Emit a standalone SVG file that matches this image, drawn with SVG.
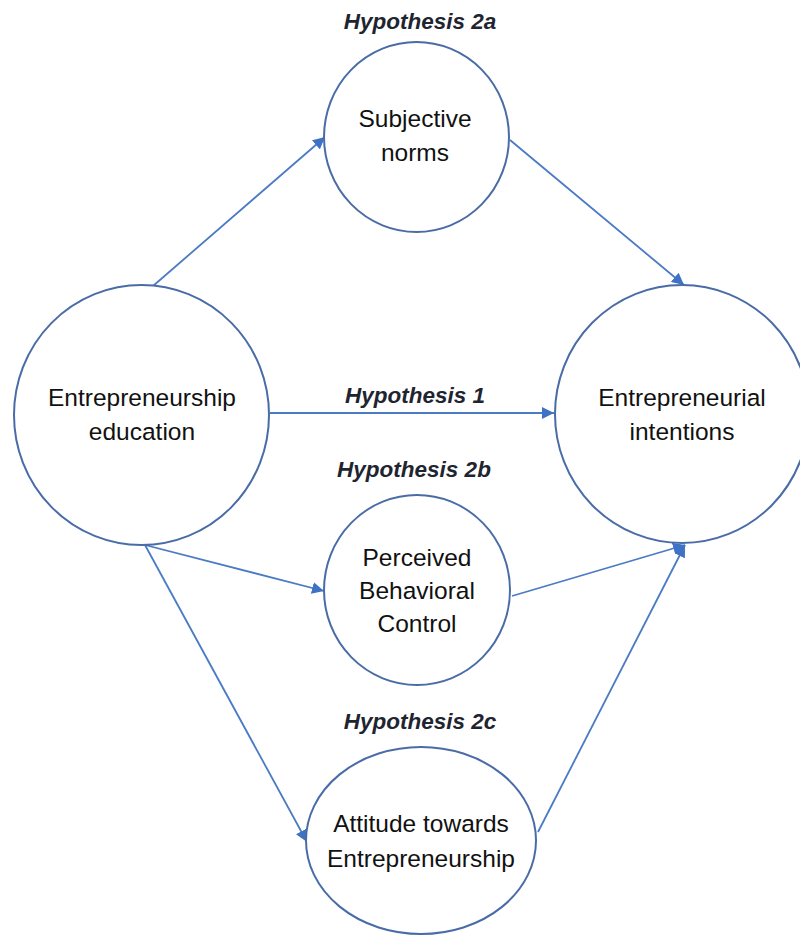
<svg xmlns="http://www.w3.org/2000/svg" width="800" height="936" viewBox="0 0 800 936">
  <style>
    .node { fill: #ffffff; stroke: #4a6ca6; stroke-width: 2; }
    .lbl { font-family: "Liberation Sans", Arial, sans-serif; font-size: 24.5px; fill: #111111; text-anchor: middle; }
    .hyp { font-family: "Liberation Sans", Arial, sans-serif; font-size: 22.5px; font-weight: bold; font-style: italic; fill: #1f2530; text-anchor: middle; }
    .edge { fill: none; stroke: #4a7bc4; stroke-width: 1.8; marker-end: url(#arrow); }
  </style>
  <defs>
    <marker id="arrow" markerUnits="userSpaceOnUse" markerWidth="14" markerHeight="12" refX="12" refY="6" orient="auto">
      <path d="M0,0 L12,6 L0,12 Z" fill="#3f72c4"/>
    </marker>
  </defs>
  <rect width="800" height="936" fill="#ffffff"/>

  <!-- connectors -->
  <g id="connectors">
    <line class="edge" x1="153" y1="286" x2="325" y2="137"/>
    <line class="edge" x1="510" y1="140" x2="684" y2="285"/>
    <line class="edge" x1="270" y1="413" x2="554" y2="413"/>
    <line class="edge" x1="145" y1="545" x2="324" y2="591"/>
    <line class="edge" x1="512" y1="596" x2="685" y2="545"/>
    <line class="edge" x1="145" y1="545" x2="307" y2="842"/>
    <line class="edge" x1="538" y1="832" x2="685" y2="545"/>
  </g>

  <!-- hypothesis labels -->
  <g id="hypotheses">
    <text class="hyp" x="420" y="29">Hypothesis 2a</text>
    <text class="hyp" x="415" y="403">Hypothesis 1</text>
    <text class="hyp" x="414" y="477">Hypothesis 2b</text>
    <text class="hyp" x="420" y="729">Hypothesis 2c</text>
  </g>

  <g id="education">
    <ellipse class="node" cx="141.5" cy="415" rx="127.5" ry="130"/>
    <text class="lbl" x="142" y="406">Entrepreneurship</text>
    <text class="lbl" x="142" y="440">education</text>
  </g>

  <g id="intentions">
    <ellipse class="node" cx="682" cy="414" rx="127" ry="129"/>
    <text class="lbl" x="682" y="406">Entrepreneurial</text>
    <text class="lbl" x="682" y="440">intentions</text>
  </g>

  <g id="norms">
    <ellipse class="node" cx="416.5" cy="137" rx="92.5" ry="95"/>
    <text class="lbl" x="415" y="127">Subjective</text>
    <text class="lbl" x="415" y="161">norms</text>
  </g>

  <g id="control">
    <ellipse class="node" cx="417" cy="590" rx="93" ry="95"/>
    <text class="lbl" x="417" y="566">Perceived</text>
    <text class="lbl" x="417" y="599">Behavioral</text>
    <text class="lbl" x="417" y="632">Control</text>
  </g>

  <g id="attitude">
    <ellipse class="node" cx="421" cy="840.5" rx="115" ry="93.5"/>
    <text class="lbl" x="421" y="832">Attitude towards</text>
    <text class="lbl" x="421" y="867">Entrepreneurship</text>
  </g>
</svg>
